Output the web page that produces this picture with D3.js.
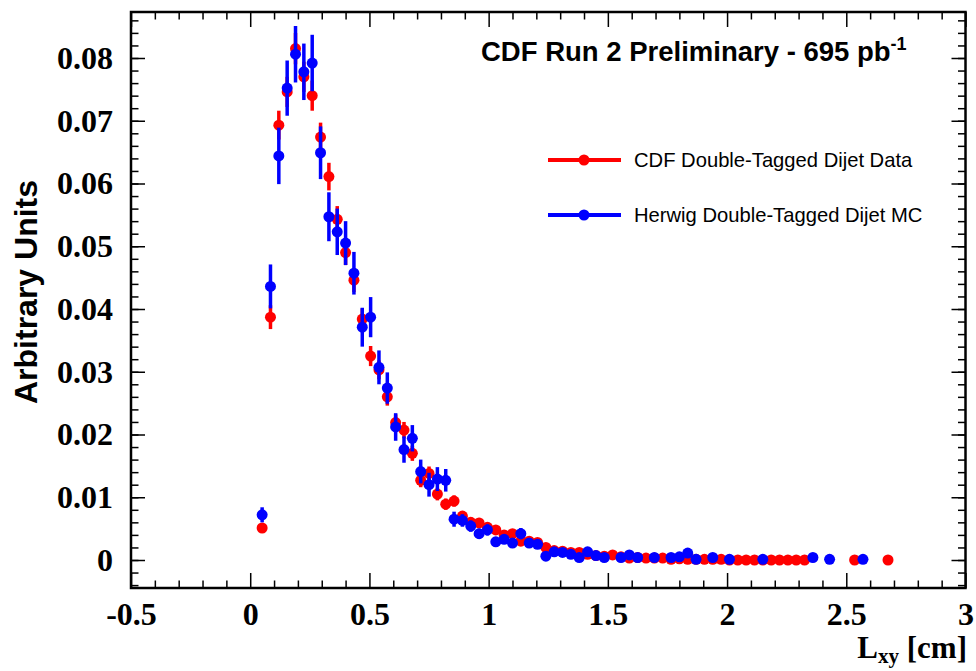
<!DOCTYPE html>
<html>
<head>
<meta charset="utf-8">
<script src="https://cdn.jsdelivr.net/npm/d3@7"></script>
<style>
  body { margin: 0; background: #fff; }
  svg { display: block; }
</style>
</head>
<body>
<div id="chart"></div>
<script>
// bin centres of L_xy [cm]
const lxyBins = [0.05, 0.085, 0.12, 0.155, 0.19, 0.225, 0.26, 0.295, 0.33, 0.365,
  0.40, 0.435, 0.47, 0.505, 0.54, 0.575, 0.61, 0.645, 0.68, 0.715,
  0.75, 0.785, 0.82, 0.855, 0.89, 0.925, 0.96, 0.995, 1.03, 1.065,
  1.10, 1.135, 1.17, 1.205, 1.24, 1.275, 1.31, 1.345, 1.38, 1.415,
  1.45, 1.485, 1.52, 1.555, 1.59, 1.625, 1.66, 1.695, 1.73, 1.765,
  1.80, 1.835, 1.87, 1.905, 1.94, 1.975, 2.01, 2.045, 2.08, 2.115,
  2.15, 2.185, 2.22, 2.255, 2.29, 2.325, 2.36, 2.395, 2.43, 2.465,
  2.50, 2.535, 2.57, 2.605, 2.64, 2.675];

// CDF double-tagged dijet data
const dataVals = [0.0051, 0.0387, 0.0693, 0.0746, 0.0815, 0.0770, 0.0740, 0.0674, 0.0611, 0.0543,
  0.0490, 0.0446, 0.0384, 0.0325, 0.0303, 0.0260, 0.0219, 0.0207, 0.0170, 0.0127,
  0.0138, 0.0105, 0.0089, 0.0094, 0.0070, 0.0060, 0.0059, 0.0052, 0.0048, 0.0040,
  0.0042, 0.0030, 0.0030, 0.0028, 0.0020, 0.0015, 0.0014, 0.0012, 0.0012, 0.0009,
  0.0007, 0.0006, 0.0008, 0.0005, 0.0003, 0.0004, 0.0003, 0.0003, 0.0003, 0.0001,
  0.0002, 0.0001, 0.0001, 0.0001, 0.0001, 0.0001, 0, 0, 0, 0,
  0, 0, 0, 0, 0, 0, null, null, null, null,
  null, 0, null, null, null, 0];
const dataErr = [0.0007, 0.0019, 0.0023, 0.0024, 0.0025, 0.0024, 0.0024, 0.0023, 0.0022, 0.0021,
  0.0020, 0.0019, 0.0017, 0.0016, 0.0015, 0.0014, 0.0013, 0.0013, 0.0012, 0.0011,
  0.0011, 0.0010, 0.0009, 0.0009, 0.0008, 0.0008, 0.0008, 0.0007, 0.0007, 0.0007,
  0.0007, 0.0006, 0.0006, 0.0006, 0.0005, 0.0004, 0.0004, 0.0004, 0.0004, 0.0003,
  0.0003, 0.0003, 0.0003, 0.0002, 0.0002, 0.0002, 0.0002, 0.0002, 0.0002, 0.0001,
  0.0001, 0.0001, 0.0001, 0.0001, 0.0001, 0.0001, 0, 0, 0, 0,
  0, 0, 0, 0, 0, 0, 0, 0, 0, 0,
  0, 0, 0, 0, 0, 0];

// Herwig double-tagged dijet MC
const mcVals = [0.0072, 0.0436, 0.0644, 0.0752, 0.0806, 0.0778, 0.0792, 0.0649, 0.0547, 0.0523,
  0.0505, 0.0457, 0.0371, 0.0387, 0.0307, 0.0274, 0.0212, 0.0176, 0.0194, 0.0141,
  0.0120, 0.0129, 0.0127, 0.0065, 0.0063, 0.0054, 0.0042, 0.0048, 0.0029, 0.0033,
  0.0027, 0.0042, 0.0027, 0.0025, 0.0006, 0.0013, 0.0012, 0.0009, 0.0004, 0.0013,
  0.0007, 0.0004, null, 0.0004, 0.0008, 0.0004, null, 0.0004, null, 0.0004,
  0.0005, 0.0011, 0.0001, null, 0.0004, null, 0.0001, null, null, null,
  0.0001, null, null, null, null, null, 0.0004, null, 0.0001, null,
  null, null, 0.0001, null, null, null];
const mcErr = [0.0012, 0.0035, 0.0045, 0.0044, 0.0045, 0.0045, 0.0045, 0.0042, 0.0039, 0.0037,
  0.0035, 0.0034, 0.0031, 0.0032, 0.0027, 0.0025, 0.0022, 0.0021, 0.0021, 0.0019,
  0.0019, 0.0019, 0.0018, 0.0012, 0.0010, 0.0009, 0.0008, 0.0009, 0.0007, 0.0007,
  0.0006, 0.0009, 0.0006, 0.0005, 0.0004, 0.0005, 0.0005, 0.0005, 0.0004, 0.0005,
  0.0004, 0.0004, 0, 0.0004, 0.0004, 0.0004, 0, 0.0004, 0, 0.0004,
  0.0004, 0.0005, 0.0003, 0, 0.0004, 0, 0.0003, 0, 0, 0,
  0.0003, 0, 0, 0, 0, 0, 0.0004, 0, 0.0003, 0,
  0, 0, 0.0003, 0, 0, 0];

const xMajor = [-0.5, 0, 0.5, 1, 1.5, 2, 2.5, 3];
const xLabels = ['-0.5', '0', '0.5', '1', '1.5', '2', '2.5', '3'];
const yMajor = [0, 0.01, 0.02, 0.03, 0.04, 0.05, 0.06, 0.07, 0.08];
const yLabels = ['0', '0.01', '0.02', '0.03', '0.04', '0.05', '0.06', '0.07', '0.08'];

const width = 976, height = 671;
const frame = {left: 131, right: 965.5, top: 12, bottom: 588};

const svg = d3.select('#chart').append('svg')
  .attr('width', width)
  .attr('height', height);

svg.append('rect').attr('width', width).attr('height', height).attr('fill', '#fff');

const x = d3.scaleLinear().domain([-0.5, 3]).range([frame.left, frame.right]);
const y = d3.scaleLinear().domain([0, 0.08]).range([560, 58]);

// minor ticks
const xMinor = d3.range(-5, 31).map(d => d / 10).filter(d => !xMajor.includes(d));
const yMinor = d3.range(-2, 44).map(d => d / 500).filter(d => y(d) > frame.top && y(d) < frame.bottom);

const tickFont = '"Liberation Serif", "Times New Roman", serif';

function styleAxis(g) {
  g.select('.domain').remove();
  g.selectAll('line').attr('stroke', '#000').attr('stroke-width', 1.5);
  g.selectAll('text').attr('font-family', tickFont).attr('font-weight', 'bold')
    .attr('font-size', 32).attr('fill', '#000');
}

// bottom axis
svg.append('g').attr('transform', `translate(0,${frame.bottom})`)
  .call(d3.axisBottom(x).tickValues(xMinor).tickSize(-7.5).tickFormat(''))
  .call(styleAxis);
svg.append('g').attr('transform', `translate(0,${frame.bottom})`)
  .call(d3.axisBottom(x).tickValues(xMajor).tickSizeInner(-15).tickSizeOuter(0)
    .tickPadding(14).tickFormat((d, i) => xLabels[i]))
  .call(styleAxis);
// top axis
svg.append('g').attr('transform', `translate(0,${frame.top})`)
  .call(d3.axisTop(x).tickValues(xMinor).tickSize(-7.5).tickFormat(''))
  .call(styleAxis);
svg.append('g').attr('transform', `translate(0,${frame.top})`)
  .call(d3.axisTop(x).tickValues(xMajor).tickSize(-15).tickFormat(''))
  .call(styleAxis);
// left axis
svg.append('g').attr('transform', `translate(${frame.left},0)`)
  .call(d3.axisLeft(y).tickValues(yMinor).tickSize(-7.5).tickFormat(''))
  .call(styleAxis);
svg.append('g').attr('transform', `translate(${frame.left},0)`)
  .call(d3.axisLeft(y).tickValues(yMajor).tickSizeInner(-14).tickSizeOuter(0)
    .tickPadding(18).tickFormat((d, i) => yLabels[i]))
  .call(styleAxis);
// right axis
svg.append('g').attr('transform', `translate(${frame.right},0)`)
  .call(d3.axisRight(y).tickValues(yMinor).tickSize(-7.5).tickFormat(''))
  .call(styleAxis);
svg.append('g').attr('transform', `translate(${frame.right},0)`)
  .call(d3.axisRight(y).tickValues(yMajor).tickSize(-14).tickFormat(''))
  .call(styleAxis);

// frame
svg.append('rect')
  .attr('x', frame.left).attr('y', frame.top)
  .attr('width', frame.right - frame.left).attr('height', frame.bottom - frame.top)
  .attr('fill', 'none').attr('stroke', '#000').attr('stroke-width', 2.5);

// data points
function series(vals, errs, color) {
  const pts = lxyBins.map((b, i) => ({x: b, v: vals[i], e: errs[i]})).filter(d => d.v !== null);
  const g = svg.append('g');
  g.selectAll('line').data(pts.filter(d => d.e > 0)).join('line')
    .attr('x1', d => x(d.x)).attr('x2', d => x(d.x))
    .attr('y1', d => y(d.v - d.e)).attr('y2', d => y(d.v + d.e))
    .attr('stroke', color).attr('stroke-width', 3.5);
  g.selectAll('circle').data(pts).join('circle')
    .attr('cx', d => x(d.x)).attr('cy', d => y(d.v)).attr('r', 5.5)
    .attr('fill', color);
}
series(dataVals, dataErr, '#ff0000');
series(mcVals, mcErr, '#0000ff');

// axis titles
svg.append('text')
  .attr('transform', 'translate(37,292) rotate(-90)')
  .attr('text-anchor', 'middle')
  .attr('font-family', '"Liberation Sans", Arial, sans-serif')
  .attr('font-weight', 'bold').attr('font-size', 32)
  .text('Arbitrary Units');

const xt = svg.append('text')
  .attr('x', 967).attr('y', 658)
  .attr('text-anchor', 'end')
  .attr('font-family', tickFont).attr('font-weight', 'bold').attr('font-size', 31);
xt.append('tspan').text('L');
xt.append('tspan').attr('font-size', 21).attr('dy', 5).text('xy');
xt.append('tspan').attr('dy', -5).text(' [cm]');

// title
const title = svg.append('text')
  .attr('x', 481).attr('y', 61)
  .attr('font-family', '"Liberation Sans", Arial, sans-serif')
  .attr('font-weight', 'bold').attr('font-size', 27.5);
title.append('tspan').text('CDF Run 2 Preliminary - 695 pb');
title.append('tspan').attr('font-size', 18).attr('dy', -11).text('-1');

// legend
const legendItems = [
  {label: 'CDF Double-Tagged Dijet Data', color: '#ff0000'},
  {label: 'Herwig Double-Tagged Dijet MC', color: '#0000ff'}
];
const lg = svg.append('g').selectAll('g').data(legendItems).join('g')
  .attr('transform', (d, i) => `translate(0,${160 + i * 55})`);
lg.append('line').attr('x1', 548).attr('x2', 621)
  .attr('stroke', d => d.color).attr('stroke-width', 4);
lg.append('circle').attr('cx', 584).attr('r', 5.5).attr('fill', d => d.color);
lg.append('text').attr('x', 634).attr('y', 7)
  .attr('font-family', '"Liberation Sans", Arial, sans-serif')
  .attr('font-size', 20.2)
  .text(d => d.label);
</script>
</body>
</html>
